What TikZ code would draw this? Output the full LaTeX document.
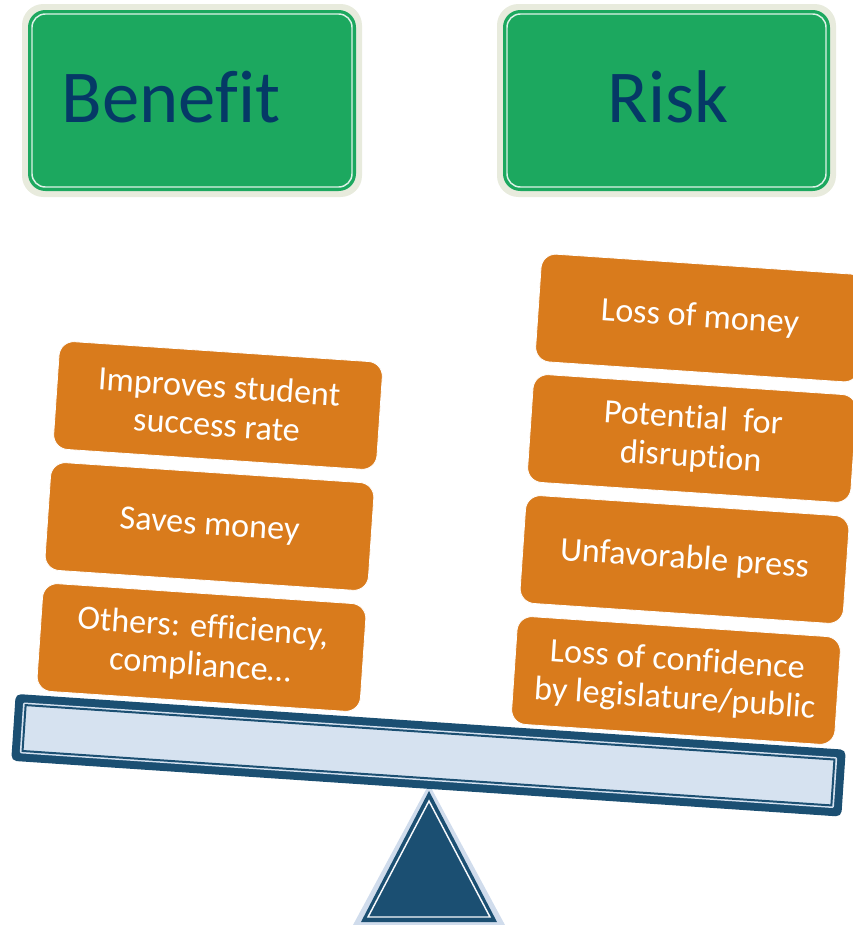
\documentclass[tikz,border=0pt]{standalone}
\usepackage{fontspec}
\setmainfont{Carlito}[Ligatures=NoCommon]
\definecolor{hdrgreen}{HTML}{1CA85F}
\definecolor{hdrbeige}{HTML}{E8EBDD}
\definecolor{hdrtext}{HTML}{053966}
\definecolor{boxorange}{HTML}{D97B1C}
\definecolor{beamdark}{HTML}{1B4F72}
\definecolor{beamlight}{HTML}{D6E2F0}
\definecolor{palefulcrum}{HTML}{D0DCEC}
\tikzset{
  hdrouter/.style={rectangle, fill=hdrbeige, rounded corners=16pt, inner sep=0pt},
  hdrgreenbox/.style={rectangle, fill=hdrgreen, rounded corners=13pt, inner sep=0pt},
  hdrline/.style={rectangle, draw=white!85!hdrgreen, line width=1.1pt, rounded corners=10pt, inner sep=0pt},
  hdrlabel/.style={anchor=base, text=hdrtext, font=\fontsize{56}{60}\selectfont, inner sep=0pt},
  weightbox/.style={rectangle, fill=boxorange, draw=white, line width=0.6pt, text=white,
    rounded corners=11pt, minimum width=243pt, minimum height=81pt, inner sep=0pt,
    align=center, font=\fontsize{25.6}{29}\selectfont, rotate=-3.85},
  beamrect/.style={rectangle, inner sep=0pt, rotate=-3.85}
}
\begin{document}
\begin{tikzpicture}[x=0.75pt,y=-0.75pt]
\path[use as bounding box] (0,0) rectangle (853,925);
\clip (0,0) rectangle (853,925);

% header boxes
\node[hdrouter, minimum width=255pt, minimum height=144.75pt] (benefitOuter) at (192,100.5) {};
\node[hdrgreenbox, minimum width=246pt, minimum height=135.75pt] (benefitGreen) at (192,100.5) {};
\node[hdrline, minimum width=240pt, minimum height=129.75pt] (benefitLine) at (192,100.5) {};
\node[hdrlabel] (benefitText) at (171,122) {Benefit};

\node[hdrouter, minimum width=254.25pt, minimum height=144.75pt] (riskOuter) at (666.5,100.5) {};
\node[hdrgreenbox, minimum width=245.25pt, minimum height=135.75pt] (riskGreen) at (666.5,100.5) {};
\node[hdrline, minimum width=239.25pt, minimum height=129.75pt] (riskLine) at (666.5,100.5) {};
\node[hdrlabel] (riskText) at (668,122) {Risk};

% fulcrum
\fill[palefulcrum] (429,784) -- (353,925) -- (505,925) -- cycle;
\fill[beamdark] (429,791) -- (361,922) -- (497,922) -- cycle;
\draw[white!80!palefulcrum, line width=1.1pt, line join=miter] (429,801) -- (368,917) -- (490,917) -- cycle;

% beam
\node[beamrect, fill=beamdark, rounded corners=4pt, minimum width=624pt, minimum height=50.25pt] (beamOuter) at (428.5,755.25) {};
\node[beamrect, fill=beamlight, rounded corners=1pt, minimum width=612pt, minimum height=38.25pt] (beamInner) at (428.5,755.25) {};
\node[beamrect, fill=beamlight, draw=beamdark, line width=1.5pt, minimum width=608pt, minimum height=34.5pt] (beamCore) at (428.5,755.25) {};

% benefit weights
\node[weightbox] (b1) at (218,405.5) {Improves student\\success rate};
\node[weightbox] (b2) at (209.5,526.5) {Saves money};
\node[weightbox] (b3) at (201.5,647.5) {Others: efficiency,\\compliance…};

% risk weights
\node[weightbox] (r1) at (700,318) {Loss of money};
\node[weightbox] (r2) at (692,438.5) {Potential\ \ for\\disruption};
\node[weightbox] (r3) at (684.5,559.5) {Unfavorable press};
\node[weightbox] (r4) at (676,680.5) {Loss of confidence\\by legislature/public};
\end{tikzpicture}
\end{document}
